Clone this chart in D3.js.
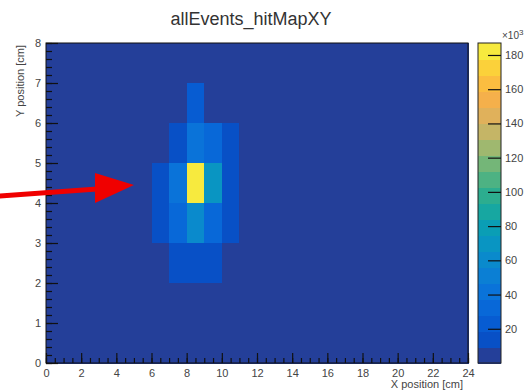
<!DOCTYPE html>
<html>
<head>
<meta charset="utf-8">
<script src="https://cdn.jsdelivr.net/npm/d3@7"></script>
<style>
  html, body { margin: 0; padding: 0; background: #fff; }
  svg { display: block; font-family: "Liberation Sans", Arial, sans-serif; }
</style>
</head>
<body>
<svg id="chart" width="531" height="390"></svg>
<script>
// ---- data ----
const title = "allEvents_hitMapXY";
const xTitle = "X position [cm]";
const yTitle = "Y position [cm]";
const xDomain = [0, 24];
const yDomain = [0, 8];
const zMax = 187000;
const nContours = 20;
const backgroundCount = 2000;
// hit counts per 1 cm x 1 cm bin (bins with content above background)
const cellX     = [7,     8,     9,     6,     7,     8,     9,     10,    6,     7,     8,      9,     10,    7,     8,     9,     10,    8];
const cellY     = [2,     2,     2,     3,     3,     3,     3,     3,     4,     4,     4,      4,     4,     5,     5,     5,     5,     6];
const cellCount = [12500, 13500, 12500, 13000, 31000, 62000, 33000, 13000, 15000, 39000, 185000, 70000, 16000, 14000, 42000, 32000, 13500, 22000];
const xTickValues = [0, 2, 4, 6, 8, 10, 12, 14, 16, 18, 20, 22, 24];
const yTickValues = [0, 1, 2, 3, 4, 5, 6, 7, 8];
const zTickValues = [20000, 40000, 60000, 80000, 100000, 120000, 140000, 160000, 180000];

// ---- palette (ROOT kBird-like, 20 contours) ----
const palette = ["#243f99", "#0850c6", "#075cd2", "#0868d8", "#0a73d9", "#0b7fd4", "#0a8acc", "#0995c2",
                 "#0a9eb5", "#17a7a1", "#2cad8f", "#4db283", "#74b678", "#9fb86f", "#c5b566", "#e0b15b",
                 "#f5b04b", "#fbbd40", "#fbd13a", "#f7ea3e"];

const svg = d3.select("#chart");
const L = 46, R = 468, T = 43, B = 363;
const cbL = 478, cbR = 501;

const x = d3.scaleLinear().domain(xDomain).range([L, R]);
const y = d3.scaleLinear().domain(yDomain).range([B, T]);
const z = d3.scaleLinear().domain([0, zMax]).range([B, T]);
const color = d3.scaleQuantize().domain([0, zMax]).range(palette);

// background bins
const bgCells = [];
for (let i = xDomain[0]; i < xDomain[1]; i++)
  for (let j = yDomain[0]; j < yDomain[1]; j++) bgCells.push({x: i, y: j, v: backgroundCount});
const hitCells = cellX.map((cx, i) => ({x: cx, y: cellY[i], v: cellCount[i]}));

const g = svg.append("g").attr("shape-rendering", "crispEdges");
g.selectAll("rect.bg").data(bgCells).join("rect").attr("class", "bg")
  .attr("x", d => x(d.x)).attr("y", d => y(d.y + 1))
  .attr("width", d => x(d.x + 1) - x(d.x) + 1).attr("height", d => y(d.y) - y(d.y + 1) + 1)
  .attr("fill", d => color(d.v));
g.selectAll("rect.hit").data(hitCells).join("rect").attr("class", "hit")
  .attr("x", d => x(d.x)).attr("y", d => y(d.y + 1))
  .attr("width", d => x(d.x + 1) - x(d.x)).attr("height", d => y(d.y) - y(d.y + 1))
  .attr("fill", d => color(d.v));

// frame
svg.append("rect").attr("x", L).attr("y", T).attr("width", R - L).attr("height", B - T)
  .attr("fill", "none").attr("stroke", "#111").attr("stroke-width", 1);

// axes (ticks inside the frame, ROOT style)
const xMinor = d3.range(0, 24.01, 0.5);
const yMinor = d3.range(0, 8.01, 0.2);
const xAxisMinor = svg.append("g").attr("transform", `translate(0,${B})`)
  .call(d3.axisBottom(x).tickValues(xMinor).tickSize(-5).tickFormat(""));
const xAxis = svg.append("g").attr("transform", `translate(0,${B})`)
  .call(d3.axisBottom(x).tickValues(xTickValues).tickSize(-10).tickPadding(6).tickFormat(d3.format("d")));
const yAxisMinor = svg.append("g").attr("transform", `translate(${L},0)`)
  .call(d3.axisLeft(y).tickValues(yMinor).tickSize(-6).tickFormat(""));
const yAxis = svg.append("g").attr("transform", `translate(${L},0)`)
  .call(d3.axisLeft(y).tickValues(yTickValues).tickSize(-12).tickPadding(5).tickFormat(d3.format("d")));
[xAxisMinor, xAxis, yAxisMinor, yAxis].forEach(a => {
  a.select(".domain").remove();
  a.selectAll("line").attr("stroke", "#111").attr("stroke-width", 1.2);
  a.selectAll("text").attr("fill", "#444").style("font-size", "11px");
});

// colour bar
const cbBands = d3.range(nContours).map(i => ({lo: i * zMax / nContours, hi: (i + 1) * zMax / nContours}));
svg.append("g").attr("shape-rendering", "crispEdges").selectAll("rect").data(cbBands).join("rect")
  .attr("x", cbL).attr("width", cbR - cbL)
  .attr("y", d => z(d.hi)).attr("height", d => z(d.lo) - z(d.hi) + 1)
  .attr("fill", d => color((d.lo + d.hi) / 2));
svg.append("rect").attr("x", cbL).attr("y", T).attr("width", cbR - cbL).attr("height", B - T)
  .attr("fill", "none").attr("stroke", "#222").attr("stroke-width", 1);
const zAxis = svg.append("g").attr("transform", `translate(${cbR},0)`)
  .call(d3.axisRight(z).tickValues(zTickValues).tickSize(-13).tickPadding(4).tickFormat(d => d / 1000));
zAxis.select(".domain").remove();
zAxis.selectAll("line").attr("stroke", "#111").attr("stroke-width", 1.2);
zAxis.selectAll("text").attr("fill", "#444").style("font-size", "11px");
const mult = svg.append("text").attr("x", 502).attr("y", 39).attr("fill", "#444").style("font-size", "10px");
mult.append("tspan").text("×10");
mult.append("tspan").attr("dy", -4).style("font-size", "8px").text("3");

// titles
svg.append("text").attr("x", 251).attr("y", 25).attr("text-anchor", "middle")
  .attr("fill", "#333").style("font-size", "18px").text(title);
svg.append("text").attr("x", 463).attr("y", 388).attr("text-anchor", "end")
  .attr("fill", "#444").style("font-size", "11px").text(xTitle);
svg.append("text").attr("transform", "translate(24,45) rotate(-90)").attr("text-anchor", "end")
  .attr("fill", "#444").style("font-size", "11px").text(yTitle);

// red annotation arrow
svg.append("path")
  .attr("d", "M0,193.5 L97,186.5 L97,191.5 L0,198.5 Z")
  .attr("fill", "#f00000");
svg.append("path")
  .attr("d", "M95,173 L134,185 L95,203 Z")
  .attr("fill", "#f00000");
</script>
</body>
</html>
